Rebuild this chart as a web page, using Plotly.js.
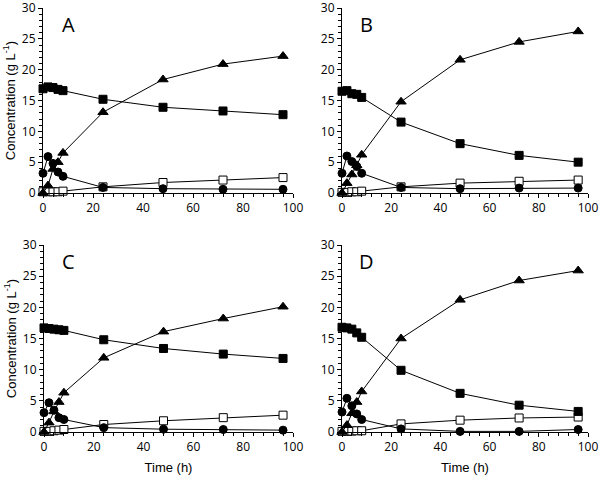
<!DOCTYPE html>
<html>
<head>
<meta charset="utf-8">
<script src="https://cdn.plot.ly/plotly-3.0.1.min.js"></script>
<style>html,body{margin:0;padding:0;background:#fff;}#chart{width:600px;height:478px;}</style>
</head>
<body>
<div id="chart"></div>
<script>
var time = [0, 2, 4, 6, 8, 24, 48, 72, 96];

var panelLabels = ["A", "B", "C", "D"];

var filledSquares = {
  A: [16.9, 17.2, 17.1, 16.8, 16.6, 15.2, 13.9, 13.3, 12.7],
  B: [16.5, 16.6, 16.1, 16.0, 15.5, 11.5, 8.0, 6.1, 5.0],
  C: [16.7, 16.6, 16.5, 16.4, 16.3, 14.8, 13.4, 12.5, 11.8],
  D: [16.8, 16.7, 16.5, 15.9, 15.2, 9.9, 6.2, 4.3, 3.3]
};
var triangles = {
  A: [0, 1.2, 3.9, 5.0, 6.5, 13.1, 18.4, 20.9, 22.2],
  B: [0, 1.6, 3.0, 4.5, 6.2, 14.8, 21.6, 24.5, 26.2],
  C: [0, 1.5, 3.3, 4.8, 6.3, 11.9, 16.1, 18.2, 20.1],
  D: [0, 1.1, 3.0, 4.8, 6.5, 15.0, 21.2, 24.3, 25.9]
};
var circles = {
  A: [3.2, 5.9, 4.8, 3.4, 2.7, 0.9, 0.7, 0.6, 0.6],
  B: [3.2, 6.0, 5.1, 4.3, 3.2, 0.9, 0.7, 0.8, 0.8],
  C: [3.1, 4.7, 3.5, 2.3, 2.0, 0.7, 0.45, 0.4, 0.3],
  D: [3.2, 5.4, 4.2, 2.9, 2.0, 0.5, 0.1, 0.1, 0.4]
};
var openSquares = {
  A: [0.2, 0.2, 0.2, 0.2, 0.3, 1.0, 1.7, 2.1, 2.5],
  B: [0.1, 0.1, 0.2, 0.2, 0.3, 1.0, 1.6, 1.9, 2.1],
  C: [0.1, 0.1, 0.2, 0.3, 0.4, 1.2, 1.8, 2.3, 2.7],
  D: [0.1, 0.1, 0.15, 0.2, 0.2, 1.3, 1.9, 2.25, 2.4]
};

var W = 600, H = 478;
var xDomains = [[43/W, 293/W], [342/W, 588/W], [44/W, 293/W], [342/W, 588/W]];
var yDomains = [[(H-193)/H, (H-8)/H], [(H-193)/H, (H-8)/H], [(H-432)/H, (H-245)/H], [(H-432)/H, (H-245)/H]];

var traces = [];
var layout = {
  width: W, height: H,
  margin: {l: 0, r: 0, t: 0, b: 0},
  paper_bgcolor: "#fff", plot_bgcolor: "#fff",
  showlegend: false,
  annotations: [],
  font: {family: "'Open Sans', Lato, sans-serif", color: "#000"}
};

function addSeries(vals, sym, fill, k) {
  var sfx = k === 0 ? "" : String(k + 1);
  traces.push({
    x: time, y: vals, type: "scatter", mode: "lines+markers",
    xaxis: "x" + sfx, yaxis: "y" + sfx,
    line: {color: "#000", width: 1},
    marker: {symbol: sym, size: sym === "triangle-up" ? 9 : 8, color: fill, line: {color: "#000", width: 1}},
    cliponaxis: false, hoverinfo: "skip"
  });
}

var tickFont = {size: 12, family: "'Open Sans', Lato, sans-serif", color: "#000"};
var titleFont = {size: 13, family: "'Liberation Sans', Arial, sans-serif", color: "#000"};

panelLabels.forEach(function (p, k) {
  addSeries(openSquares[p], "square", "#fff", k);
  addSeries(filledSquares[p], "square", "#000", k);
  addSeries(triangles[p], "triangle-up", "#000", k);
  addSeries(circles[p], "circle", "#000", k);

  var sfx = k === 0 ? "" : String(k + 1);
  var bottom = k >= 2;
  var left = (k % 2) === 0;
  var xa = {
    domain: xDomains[k], range: [0, 100], anchor: "y" + sfx,
    tickmode: "linear", tick0: 0, dtick: 20,
    ticks: "outside", ticklen: 4, tickcolor: "#000", tickwidth: 1,
    minor: {tickmode: "linear", tick0: 0, dtick: 4, ticks: "outside", ticklen: 3, tickcolor: "#000", tickwidth: 1, showgrid: false},
    showline: true, linecolor: "#000", linewidth: 1,
    showgrid: false, zeroline: false, ticklabeloverflow: "allow",
    tickfont: tickFont
  };
  if (bottom) xa.title = {text: "Time (h)", font: titleFont, standoff: 8};
  var ya = {
    domain: yDomains[k], range: [0, 30], anchor: "x" + sfx,
    tickmode: "linear", tick0: 0, dtick: 5,
    ticks: "outside", ticklen: 4, tickcolor: "#000", tickwidth: 1,
    minor: {tickmode: "linear", tick0: 0, dtick: 1, ticks: "outside", ticklen: 3, tickcolor: "#000", tickwidth: 1, showgrid: false},
    showline: true, linecolor: "#000", linewidth: 1,
    showgrid: false, zeroline: false, ticklabeloverflow: "allow",
    tickfont: tickFont
  };
  if (left) ya.title = {text: "Concentration (g L<sup>-1</sup>)", font: titleFont, standoff: 3};
  layout["xaxis" + sfx] = xa;
  layout["yaxis" + sfx] = ya;
  layout.annotations.push({
    text: p, xref: "x" + sfx, yref: "y" + sfx, x: 10, y: 27.3,
    xanchor: "center", yanchor: "middle", showarrow: false,
    font: {size: 20, family: "'Open Sans', Lato, sans-serif", color: "#000"}
  });
});

Plotly.newPlot("chart", traces, layout, {staticPlot: true, displayModeBar: false});
</script>
</body>
</html>
